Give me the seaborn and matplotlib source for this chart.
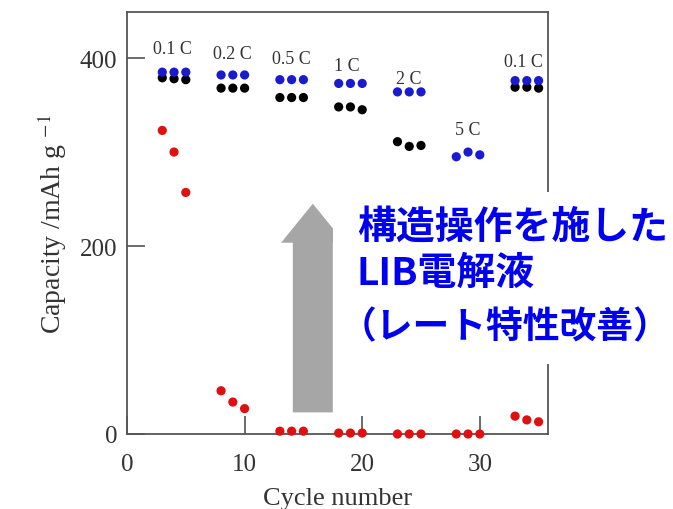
import numpy as np
import pandas as pd
import matplotlib
matplotlib.use('Agg')
import matplotlib.pyplot as plt
import seaborn as sns
from matplotlib.patches import Rectangle

sns.set_style("ticks")
plt.rcParams['font.family'] = ['Liberation Serif', 'DejaVu Serif']
plt.rcParams['mathtext.fontset'] = 'stix'

# data
cycles = [3, 4, 5, 8, 9, 10, 13, 14, 15, 18, 19, 20, 23, 24, 25, 28, 29, 30, 33, 34, 35]
cap_blue = [385, 385, 385, 382, 382, 382, 377, 377, 377, 373, 373, 373,
            364, 364, 364, 295, 300, 297, 376, 376, 376]
cap_black = [379, 378, 377, 368, 368, 368, 358, 358, 358, 348, 348, 345,
             311, 306, 307, np.nan, np.nan, np.nan, 369, 369, 368]
cap_red = [323, 300, 257, 46, 34, 27, 3, 3, 3, 1, 1, 1,
           0, 0, 0, 0, 0, 0, 19, 15, 13]

rate_labels = ['0.1 C', '0.2 C', '0.5 C', '1 C', '2 C', '5 C', '0.1 C']
rate_x = [3.9, 9.0, 14.0, 18.7, 24.0, 29.0, 33.7]
rate_y = [410, 405, 399, 392, 378, 324, 396]

# black first so the blue dots sit on top of it
df = pd.DataFrame({'cycle': cycles, 'black': cap_black, 'red': cap_red, 'blue': cap_blue})
df = df.melt(id_vars='cycle', var_name='series', value_name='capacity').dropna()

W, H = 673, 510
fig = plt.figure(figsize=(W / 100, H / 100), dpi=100)
ax = fig.add_axes([127 / W, 1 - 435 / H, (548 - 127) / W, (435 - 13) / H])

sns.scatterplot(data=df, x='cycle', y='capacity', hue='series',
                palette={'blue': '#1a1ad0', 'black': '#000000', 'red': '#e01010'},
                s=44, linewidth=0, legend=False, clip_on=False, zorder=3, ax=ax)

for lab, lx, ly in zip(rate_labels, rate_x, rate_y):
    ax.text(lx, ly, lab, ha='center', va='center', fontsize=13, color='#333333')

# big gray arrow
ax.arrow(15.8, 23, 0, 222, width=3.4, head_width=5.4, head_length=41.5,
         length_includes_head=True, color='#a6a6a6', linewidth=0, zorder=2)

ax.set_xlim(0, 35.8)
ax.set_ylim(0, 449)
ax.set_xticks([0, 10, 20, 30])
ax.set_yticks([0, 200, 400])
ax.tick_params(direction='in', length=13, width=1.1, color='#444444',
               labelsize=18, labelcolor='#333333')
ax.tick_params(axis='x', pad=14)
ax.tick_params(axis='y', pad=7)
for sp in ax.spines.values():
    sp.set_color('#555555')
    sp.set_linewidth(1.3)

ax.set_xlabel('Cycle number', fontsize=19, color='#333333', labelpad=8)
ax.set_ylabel(r'Capacity /mAh g $^{-1}$', fontsize=20, color='#333333', labelpad=8)

# white box for the annotation
fig.add_artist(Rectangle((333 / W, 1 - 365 / H), (W - 333) / W, (365 - 193) / H,
                         transform=fig.transFigure, facecolor='white',
                         edgecolor='none', zorder=5))

jp = dict(family=['Noto Sans CJK JP', 'DejaVu Sans'], fontsize=28,
          fontweight='bold', color='#0000f0', va='center', zorder=6)
fig.text(357 / W, 1 - 227 / H, '構造操作を施した', ha='left', **jp)
fig.text(357 / W, 1 - 273 / H, 'LIB電解液', ha='left', **jp)
fig.text(670 / W, 1 - 328 / H, '（レート特性改善）', ha='right',
         **{**jp, 'fontsize': 26.5})

fig.savefig('out.png', dpi=100)
